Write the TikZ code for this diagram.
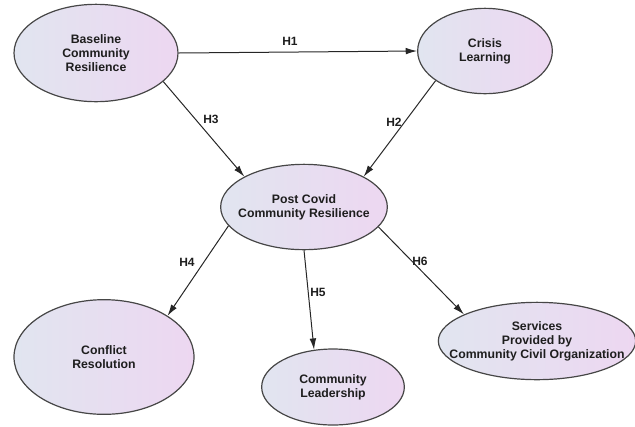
\documentclass[tikz,border=0pt]{standalone}
\usepackage{fontspec}
\setmainfont{Liberation Sans}
\usetikzlibrary{shapes.geometric,arrows.meta}

\definecolor{leftfill}{RGB}{225,229,240}
\definecolor{rightfill}{RGB}{237,215,241}
\definecolor{rimgray}{RGB}{70,70,70}
\definecolor{textgray}{RGB}{30,30,30}

\tikzset{
  construct/.style={ellipse, draw=rimgray, line width=0.9pt, left color=leftfill, right color=rightfill,
    inner sep=-25pt, align=center, text=textgray, font=\fontsize{9.2}{10.6}\selectfont\bfseries},
  path arrow/.style={draw=black!85, line width=0.75pt, -{Latex[length=8.5pt,width=5pt]}},
  hyp/.style={inner sep=0.75pt, text=textgray, font=\fontsize{9}{10}\selectfont\bfseries}
}

\begin{document}
\begin{tikzpicture}[x=0.75pt,y=0.75pt,yscale=-1,xscale=1]
\useasboundingbox (0,0) rectangle (635,426);

%Shape: Ellipse [baseline]
\node (base) at (96,53) [construct, minimum width=123pt, minimum height=73pt] {Baseline\\Community\\ Resilience};
%Shape: Ellipse [crisis]
\node (crisis) at (485,51) [construct, minimum width=101pt, minimum height=64pt] {Crisis\\Learning};
%Shape: Ellipse [post covid]
\node (post) at (304,207) [construct, minimum width=125pt, minimum height=64pt] {Post Covid\\Community Resilience};
%Shape: Ellipse [conflict]
\node (conflict) at (104,357) [construct, minimum width=135pt, minimum height=86pt] {Conflict\\Resolution};
%Shape: Ellipse [leadership]
\node (leader) at (333,387) [construct, minimum width=107pt, minimum height=57pt] {Community\\Leadership};
%Shape: Ellipse [services]
\node (services) at (537,341) [construct, minimum width=148pt, minimum height=58pt] {Services\\Provided by\\Community Civil Organization};

%Straight Lines
\draw [path arrow] (base.0) -- (crisis.180);
\draw [path arrow] (base.-23) -- (post.153);
\draw [path arrow] (crisis.-149) -- (post.27);
\draw [path arrow] (post.194) -- (conflict.33);
\draw [path arrow] (post.270) -- (leader.117);
\draw [path arrow] (post.-15) -- (services.160);

% Text Node
\node (h1) at (290,41) [hyp] {H1};
% Text Node
\node (h3) at (211,119) [hyp] {H3};
% Text Node
\node (h2) at (394,122) [hyp] {H2};
% Text Node
\node (h4) at (187,262) [hyp] {H4};
% Text Node
\node (h5) at (318,292) [hyp] {H5};
% Text Node
\node (h6) at (420,261) [hyp] {H6};

\end{tikzpicture}
\end{document}
